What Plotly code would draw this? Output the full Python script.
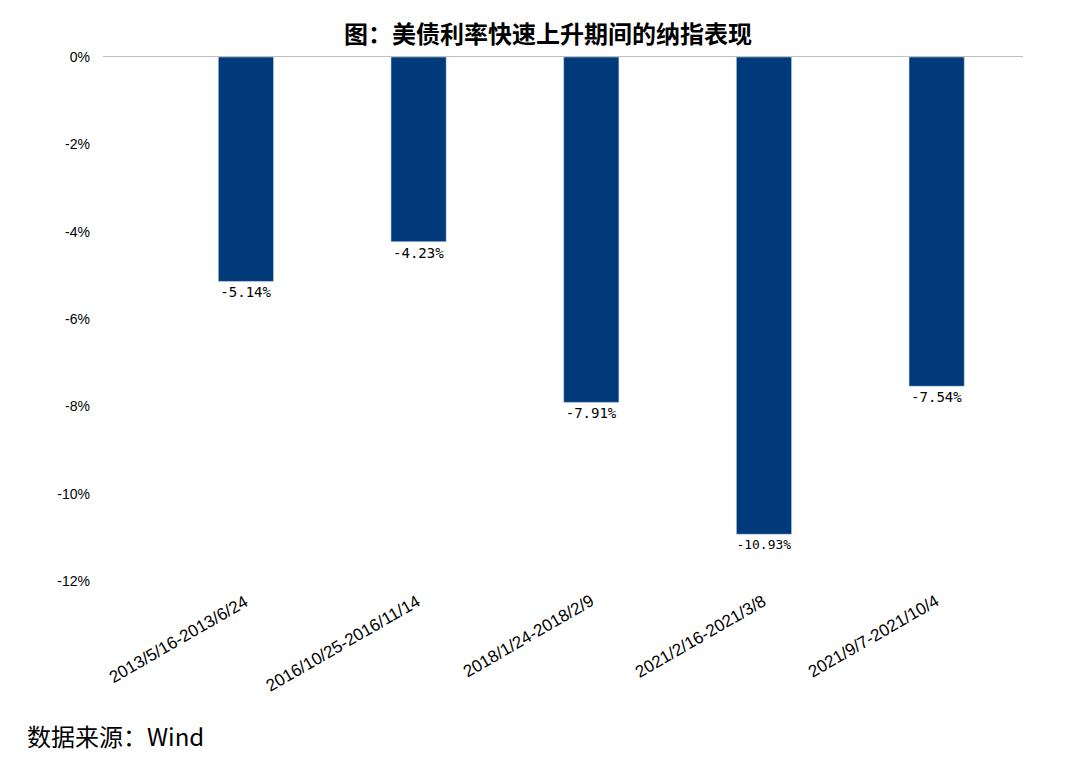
import plotly.graph_objects as go

categories = ["2013/5/16-2013/6/24", "2016/10/25-2016/11/14", "2018/1/24-2018/2/9",
              "2021/2/16-2021/3/8", "2021/9/7-2021/10/4"]
values = [-5.14, -4.23, -7.91, -10.93, -7.54]
labels = ["-5.14%", "-4.23%", "-7.91%", "-10.93%", "-7.54%"]
tick_vals = [0, -2, -4, -6, -8, -10, -12]
tick_text = ["0%", "-2%", "-4%", "-6%", "-8%", "-10%", "-12%"]

fig = go.Figure(go.Bar(
    x=categories, y=values, width=0.32, marker_color="#003a7a",
    text=labels, textposition="outside", cliponaxis=False,
    textfont=dict(family="DejaVu Sans Mono, monospace", size=14, color="black"),
))
fig.update_layout(
    width=1080, height=764, plot_bgcolor="white", paper_bgcolor="white",
    margin=dict(l=95, r=65, t=49, b=191),
    showlegend=False,
    title=dict(text="<b>图：美债利率快速上升期间的纳指表现</b>", x=0.5, xanchor="center",
               y=0.965, yanchor="middle",
               font=dict(family="Noto Sans CJK SC", size=24, color="black")),
    font=dict(family="Liberation Sans, Arial", color="black"),
)
fig.update_yaxes(range=[-12, 0], tickvals=tick_vals, ticktext=tick_text, showgrid=False,
                 zeroline=False, tickfont=dict(size=14), ticks="", ticklabelstandoff=12)
fig.update_xaxes(side="top", showticklabels=False, showline=True, linecolor="#bfbfbf",
                 linewidth=1, ticks="")
for i, c in enumerate(categories):
    fig.add_annotation(x=c, y=-12, xref="x", yref="y", text=c, showarrow=False,
                       textangle=-30, xanchor="right", yanchor="top", xshift=8, yshift=-8,
                       font=dict(size=17, family="Liberation Sans, Arial"))
fig.add_annotation(x=0.01, y=0.031, xref="paper", yref="paper", text="数据来源：Wind",
                   showarrow=False, xanchor="left", yanchor="middle",
                   font=dict(family="Noto Sans CJK SC", size=24, color="black"))
fig.update_annotations(selector=dict(text="数据来源：Wind"), xref="paper", yref="paper")
fig.layout.annotations[-1].update(xref="paper", yref="paper", x=-0.085, y=-0.295)
fig.write_html("out.html")
